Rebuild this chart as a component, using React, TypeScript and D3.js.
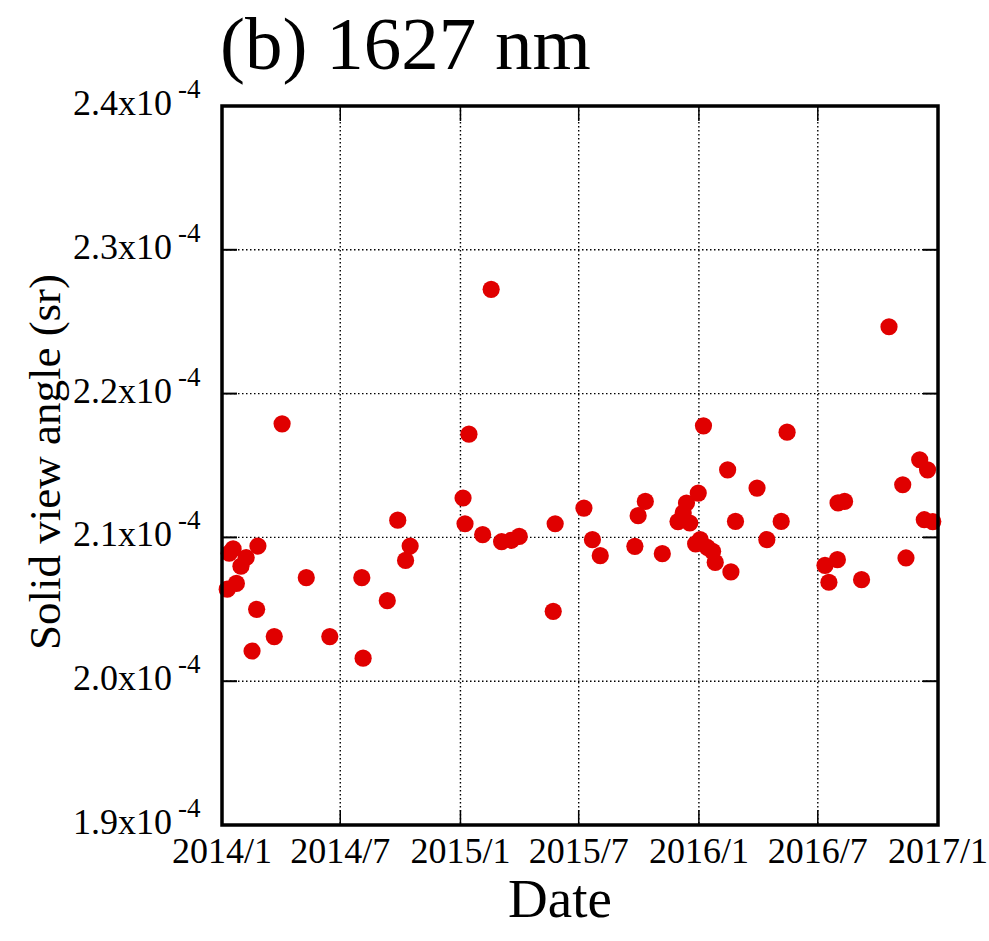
import React from "react";
import * as d3 from "d3";

const dates: string[] = [
  "2014-01-09","2014-01-12","2014-01-18","2014-01-23","2014-01-30","2014-02-07","2014-02-25",
  "2014-02-16","2014-02-23","2014-03-22","2014-04-03","2014-05-10","2014-06-15","2014-08-03",
  "2014-08-05","2014-09-11","2014-09-27","2014-10-09","2014-10-16",
  "2015-01-05","2015-01-08","2015-01-14","2015-02-04","2015-02-17","2015-03-05","2015-03-20",
  "2015-04-01","2015-05-23","2015-05-26","2015-07-09","2015-07-22","2015-08-03","2015-09-25",
  "2015-09-30","2015-10-11","2015-11-06","2015-11-30","2015-12-08","2015-12-13","2015-12-18",
  "2015-12-31","2015-12-27","2016-01-03","2016-01-08","2016-01-14","2016-01-22","2016-01-26",
  "2016-02-14","2016-02-19","2016-02-26","2016-03-30","2016-04-14","2016-05-06","2016-05-15",
  "2016-07-12","2016-07-18","2016-07-31","2016-08-01","2016-08-11","2016-09-06","2016-10-18",
  "2016-11-08","2016-11-13","2016-12-04","2016-12-16","2016-12-11","2016-12-24"
];

// values in units of 1e-4 sr
const values: number[] = [
  2.064,2.089,2.092,2.068,2.080,2.086,2.094,
  2.021,2.050,2.031,2.179,2.072,2.031,2.072,
  2.016,2.056,2.112,2.084,2.094,
  2.1274,2.1095,2.1718,2.1019,2.2725,2.097,2.098,
  2.1007,2.0486,2.1095,2.1204,2.0984,2.0873,2.0938,
  2.1151,2.125,2.0887,2.111,2.117,2.1239,2.110,
  2.1308,2.0955,2.0985,2.1776,2.093,2.0903,2.0826,
  2.147,2.076,2.1111,2.1343,2.0984,2.1111,2.1732,
  2.0806,2.0688,2.0845,2.124,2.125,2.0706,2.2465,
  2.1366,2.0857,2.154,2.147,2.1123,2.111
];

const yTicks: number[] = [1.9, 2.0, 2.1, 2.2, 2.3, 2.4];
const xTickDates: string[] = ["2014-01-01","2014-07-01","2015-01-01","2015-07-01","2016-01-01","2016-07-01","2017-01-01"];
const xTickLabels: string[] = ["2014/1","2014/7","2015/1","2015/7","2016/1","2016/7","2017/1"];

const W = 989, H = 941;
const L = 222, R = 938, T = 106, B = 825;
const FONT = "'Liberation Serif', 'Times New Roman', serif";

export default function App() {
  const parse = d3.utcParse("%Y-%m-%d");
  const x = d3.scaleUtc()
    .domain([parse("2014-01-01") as Date, parse("2017-01-01") as Date])
    .range([L, R]);
  const y = d3.scaleLinear().domain([1.9, 2.4]).range([B, T]);
  const pts = dates.map((d, i) => ({ d: parse(d) as Date, v: values[i] }));
  const tickLen = 15;

  return (
    <svg width={W} height={H} style={{ position: "absolute", left: 0, top: 0, background: "#fff" }}
      fontFamily={FONT}>
      <rect x={0} y={0} width={W} height={H} fill="#fff" />
      {/* grid */}
      {yTicks.slice(1, -1).map((t) => (
        <line key={"gy" + t} x1={L} x2={R} y1={y(t)} y2={y(t)} stroke="#000"
          strokeWidth={1.4} strokeDasharray="1.5,2.5" />
      ))}
      {xTickDates.slice(1, -1).map((t) => (
        <line key={"gx" + t} y1={T} y2={B} x1={x(parse(t) as Date)} x2={x(parse(t) as Date)}
          stroke="#000" strokeWidth={1.4} strokeDasharray="1.5,2.5" />
      ))}
      {/* ticks */}
      {yTicks.map((t) => (
        <g key={"ty" + t}>
          <line x1={L} x2={L + tickLen} y1={y(t)} y2={y(t)} stroke="#000" strokeWidth={2} />
          <line x1={R} x2={R - tickLen} y1={y(t)} y2={y(t)} stroke="#000" strokeWidth={2} />
        </g>
      ))}
      {xTickDates.map((t) => {
        const xx = x(parse(t) as Date);
        return (
          <g key={"tx" + t}>
            <line x1={xx} x2={xx} y1={B} y2={B - tickLen} stroke="#000" strokeWidth={1.5} />
            <line x1={xx} x2={xx} y1={T} y2={T + tickLen} stroke="#000" strokeWidth={1.5} />
          </g>
        );
      })}
      {/* points */}
      {pts.map((p, i) => (
        <circle key={i} cx={x(p.d)} cy={y(p.v)} r={8.6} fill="#e00000" />
      ))}
      {/* frame */}
      <rect x={L} y={T} width={R - L} height={B - T} fill="none" stroke="#000" strokeWidth={3.5} />
      {/* y tick labels */}
      {yTicks.map((t) => (
        <text key={"ly" + t} x={73} y={y(t) + 9} textAnchor="start" fontSize={36} fill="#000">
          {t.toFixed(1) + "x10"}
          <tspan dx={6} dy={-17} fontSize={27}>-4</tspan>
        </text>
      ))}
      {/* x tick labels */}
      {xTickDates.map((t, i) => (
        <text key={"lx" + t} x={x(parse(t) as Date)} y={863} textAnchor="middle" fontSize={36} fill="#000">
          {xTickLabels[i]}
        </text>
      ))}
      {/* axis titles */}
      <text x={560} y={917} textAnchor="middle" fontSize={55} fill="#000">Date</text>
      <text transform={`translate(60, 462) rotate(-90)`} textAnchor="middle" fontSize={45} fill="#000">
        Solid view angle (sr)
      </text>
      <text x={220} y={69} fontSize={75} fill="#000">(b) 1627 nm</text>
    </svg>
  );
}
